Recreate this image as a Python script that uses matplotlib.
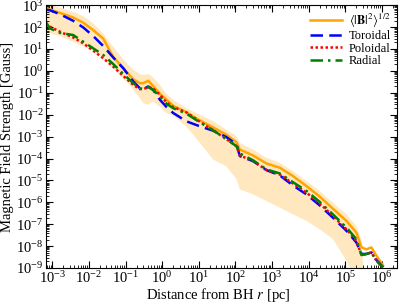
import numpy as np
import matplotlib
matplotlib.use("Agg")
import matplotlib.pyplot as plt
from matplotlib.ticker import LogLocator, NullFormatter

# log10 of distance from BH [pc]
log_r = [-3.18, -3.06, -2.79, -2.43, -2.15, -1.88, -1.61, -1.34, -1.06, -0.79,
         -0.61, -0.52, -0.38, -0.25, -0.06, 0.12, 0.30, 0.66, 1.03, 1.39,
         1.75, 2.03, 2.12, 2.48, 2.85, 3.21, 3.57, 3.94, 4.30, 4.66,
         5.03, 5.30, 5.44, 5.57, 5.71, 5.85, 6.03]

# log10 of field strengths [Gauss]
log_B_total = [2.89, 2.80, 2.65, 2.44, 2.20, 1.86, 1.48, 0.65, 0.12, -0.38,
               -0.56, -0.56, -0.45, -0.68, -1.05, -1.32, -1.59, -1.89, -2.26, -2.58,
               -2.91, -3.26, -3.59, -3.86, -4.23, -4.42, -4.80, -5.26, -5.74, -6.29,
               -6.85, -7.38, -8.05, -8.15, -8.06, -8.44, -8.89]
log_B_tor = [2.80, 2.77, 2.59, 2.29, 1.98, 1.59, 1.14, 0.62, 0.12, -0.48,
             -0.79, -0.83, -0.71, -0.86, -1.32, -1.65, -1.92, -2.30, -2.53, -2.73,
             -3.02, -3.36, -3.89, -4.12, -4.53, -4.77, -5.23, -5.64, -6.14, -6.70,
             -7.30, -7.83, -8.36, -8.36, -8.29, -8.64, -8.97]
log_B_pol = [2.17, 2.02, 1.79, 1.53, 1.26, 0.92, 0.58, 0.20, -0.23, -0.64,
             -0.83, -0.83, -0.74, -0.80, -1.09, -1.44, -1.65, -1.89, -2.32, -2.71,
             -3.11, -3.44, -3.86, -4.11, -4.53, -4.73, -5.14, -5.56, -6.05, -6.62,
             -7.23, -7.76, -8.41, -8.36, -8.29, -8.67, -8.97]
log_B_rad = [2.24, 1.94, 1.74, 1.64, 1.33, 1.03, 0.73, 0.32, -0.14, -0.56,
             -0.79, -0.83, -0.74, -0.86, -1.17, -1.50, -1.70, -1.95, -2.35, -2.71,
             -3.11, -3.44, -3.77, -4.08, -4.50, -4.68, -5.08, -5.48, -5.98, -6.55,
             -7.15, -7.68, -8.41, -8.36, -8.29, -8.67, -8.97]
log_band_hi = [3.05, 3.00, 2.89, 2.70, 2.50, 2.17, 1.71, 1.11, 0.53, 0.05,
               -0.14, -0.18, -0.14, -0.29, -0.64, -1.05, -1.32, -1.70, -2.00, -2.30,
               -2.68, -2.98, -3.29, -3.59, -3.97, -4.20, -4.58, -5.03, -5.48, -6.02,
               -6.55, -7.08, -7.70, -11.0, -11.0, -11.0, -11.0]
log_band_lo = [1.79, 1.71, 1.59, 1.33, 1.11, 0.92, 0.58, 0.12, -0.33, -0.86,
               -1.24, -1.47, -1.55, -1.39, -1.65, -1.92, -2.05, -2.53, -3.29, -4.05,
               -4.35, -4.95, -5.41, -5.64, -5.94, -6.24, -6.55, -6.85, -7.23, -7.68,
               -8.67, -9.60, -11.0, -11.0, -11.0, -11.0, -11.0]

labels = [r"$\langle|\mathbf{B}|^2\rangle^{1/2}$", "Toroidal", "Poloidal", "Radial"]

plt.rcParams["font.family"] = ["Liberation Serif", "DejaVu Serif"]
plt.rcParams["mathtext.fontset"] = "stix"

r = 10.0 ** np.array(log_r)
fig = plt.figure(figsize=(3.99, 3.02), dpi=100)
ax = fig.add_axes([0.1145, 0.1126, 0.8805, 0.870])

ax.fill_between(r, 10.0 ** np.array(log_band_lo), 10.0 ** np.array(log_band_hi),
                color="orange", alpha=0.25, linewidth=0)
ax.plot(r, 10.0 ** np.array(log_B_total), color="orange", lw=1.8, ls="-", label=labels[0])
ax.plot(r, 10.0 ** np.array(log_B_tor), color="blue", lw=1.8, ls=(0, (5, 2.5)), label=labels[1])
ax.plot(r, 10.0 ** np.array(log_B_pol), color="red", lw=1.8, ls=(0, (1, 1)), label=labels[2])
ax.plot(r, 10.0 ** np.array(log_B_rad), color="green", lw=1.8, ls=(0, (5, 2, 1, 2)), label=labels[3])

ax.set_xscale("log")
ax.set_yscale("log")
ax.set_xlim(10 ** -3.18, 10 ** 6.41)
ax.set_ylim(1e-9, 1e3)

for axis in (ax.xaxis, ax.yaxis):
    axis.set_major_locator(LogLocator(base=10, numticks=100))
    axis.set_minor_locator(LogLocator(base=10, subs=np.arange(2, 10), numticks=100))
    axis.set_minor_formatter(NullFormatter())
ax.tick_params(which="both", direction="in", top=True, right=True, labelsize=10.5, pad=1.5)
ax.tick_params(which="major", length=5, width=0.8)
ax.tick_params(which="minor", length=2.5, width=0.6)

ax.set_xlabel(r"Distance from BH $r$ [pc]", fontsize=10.5)
ax.set_ylabel("Magnetic Field Strength [Gauss]", fontsize=10.5)
ax.xaxis.set_label_coords((218 - 45.7) / 351.3, -(286 - 268) / 263.0)
ax.yaxis.set_label_coords(-(45.7 - 14.0) / 351.3, (268 - 137) / 263.0)

ax.legend(loc="upper right", frameon=False, fontsize=9, handlelength=2.6,
          handletextpad=0.5, labelspacing=0.05, borderaxespad=0.1)

fig.savefig("out.png", dpi=100)
